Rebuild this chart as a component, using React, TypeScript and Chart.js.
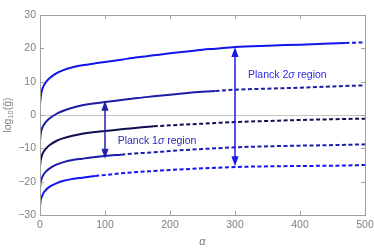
import React, { useEffect, useRef } from "react";
import { Chart, registerables } from "chart.js";

Chart.register(...registerables);

// ---- data ----
const alpha = [0, 1, 3, 6, 10, 15, 25, 35, 50, 65, 85, 100, 125, 150, 175, 200, 250, 270, 300, 350, 400, 470, 500];
const curve1 = [3, 5.3, 7.4, 8.9, 10.1, 11.1, 12.5, 13.4, 14.3, 14.9, 15.5, 15.9, 16.6, 17.3, 17.9, 18.5, 19.6, 19.9, 20.4, 20.8, 21.1, 21.6, 21.8];
const curve2 = [-7.8, -5.7, -4.1, -2.9, -1.9, -1.0, 0.3, 1.2, 2.2, 2.9, 3.55, 3.9, 4.5, 5.1, 5.6, 6.1, 7.0, 7.2, 7.6, 7.9, 8.2, 8.7, 8.9];
const curve3 = [-15.6, -13.6, -12.1, -10.9, -9.9, -9.0, -7.8, -7.0, -6.2, -5.6, -5.1, -4.8, -4.3, -3.8, -3.4, -3.1, -2.6, -2.4, -2.1, -1.8, -1.5, -1.2, -1.1];
const curve4 = [-22, -20.2, -18.9, -17.7, -16.8, -16.0, -14.9, -14.2, -13.5, -13.1, -12.6, -12.3, -11.9, -11.5, -11.2, -10.8, -10.2, -10.0, -9.7, -9.4, -9.2, -8.95, -8.8];
const curve5 = [-27.5, -25.6, -24.4, -23.2, -22.3, -21.5, -20.5, -19.8, -19.2, -18.8, -18.3, -18.0, -17.5, -17.1, -16.8, -16.5, -16.0, -15.85, -15.6, -15.4, -15.3, -15.15, -15.0];
const solidEnd = [470, 270, 175, 125, 85];

const xTicks = [0, 100, 200, 300, 400, 500];
const yTicks = [-30, -20, -10, 0, 10, 20, 30];

const arrowAlpha = [100, 300];
const arrowTop = [4.3, 20.4];
const arrowBottom = [-13.1, -15.4];

const regionLabels = ["1", "2"];
const labelAlpha = [119.5, 320];
const labelY = [-7.8, 12.1];

// ---- styles ----
const curveColors = ["#1414ec", "#1c1ca4", "#0e0e50", "#1c1cae", "#1414f0"];
const arrowColors = ["#2020a8", "#1a1ae8"];
const labelColors = ["#2a2ab4", "#2a2ae6"];
const FONT = 'Arial, "Liberation Sans", sans-serif';
const TICK_COLOR = "#808080";
const FRAME_COLOR = "#a0a0a0";

const curves = [curve1, curve2, curve3, curve4, curve5];

function buildDatasets() {
  const ds: any[] = [];
  curves.forEach((c, i) => {
    const pts = alpha.map((a, k) => ({ x: a, y: c[k] }));
    const solid = pts.filter((p) => p.x <= solidEnd[i]);
    const dashed = pts.filter((p) => p.x >= solidEnd[i]);
    ds.push({
      data: solid,
      borderColor: curveColors[i],
      borderWidth: 2,
      pointRadius: 0,
      cubicInterpolationMode: "monotone",
      fill: false,
    });
    ds.push({
      data: dashed,
      borderColor: curveColors[i],
      borderWidth: 2,
      borderDash: [4, 2.5],
      pointRadius: 0,
      cubicInterpolationMode: "monotone",
      fill: false,
    });
  });
  return ds;
}

const decorPlugin = {
  id: "decor",
  beforeDatasetsDraw(chart: any) {
    const { ctx, chartArea: a, scales } = chart;
    const y0 = scales.y.getPixelForValue(0);
    ctx.save();
    ctx.strokeStyle = "#c4c4c4";
    ctx.lineWidth = 1;
    ctx.beginPath();
    ctx.moveTo(a.left, Math.round(y0) + 0.5);
    ctx.lineTo(a.right, Math.round(y0) + 0.5);
    ctx.stroke();
    ctx.restore();
  },
  afterDatasetsDraw(chart: any) {
    const { ctx, chartArea: a, scales } = chart;
    const xs = scales.x;
    const ys = scales.y;
    ctx.save();
    // frame
    ctx.strokeStyle = FRAME_COLOR;
    ctx.lineWidth = 1;
    ctx.strokeRect(Math.round(a.left) + 0.5, Math.round(a.top) + 0.5, Math.round(a.right - a.left), Math.round(a.bottom - a.top));
    // inward ticks
    const tl = 4;
    ctx.beginPath();
    xTicks.forEach((v) => {
      const px = Math.round(xs.getPixelForValue(v)) + 0.5;
      ctx.moveTo(px, a.bottom);
      ctx.lineTo(px, a.bottom - tl);
      ctx.moveTo(px, a.top);
      ctx.lineTo(px, a.top + tl);
    });
    yTicks.forEach((v) => {
      const py = Math.round(ys.getPixelForValue(v)) + 0.5;
      ctx.moveTo(a.left, py);
      ctx.lineTo(a.left + tl, py);
      ctx.moveTo(a.right, py);
      ctx.lineTo(a.right - tl, py);
    });
    ctx.stroke();

    // arrows
    arrowAlpha.forEach((av, i) => {
      const px = xs.getPixelForValue(av);
      const pt = ys.getPixelForValue(arrowTop[i]);
      const pb = ys.getPixelForValue(arrowBottom[i]);
      const hl = 10;
      const hw = 3.6;
      ctx.strokeStyle = arrowColors[i];
      ctx.fillStyle = arrowColors[i];
      ctx.lineWidth = 1.5;
      ctx.beginPath();
      ctx.moveTo(px, pt + hl - 1);
      ctx.lineTo(px, pb - hl + 1);
      ctx.stroke();
      ctx.beginPath();
      ctx.moveTo(px, pt);
      ctx.lineTo(px - hw, pt + hl);
      ctx.lineTo(px + hw, pt + hl);
      ctx.closePath();
      ctx.fill();
      ctx.beginPath();
      ctx.moveTo(px, pb);
      ctx.lineTo(px - hw, pb - hl);
      ctx.lineTo(px + hw, pb - hl);
      ctx.closePath();
      ctx.fill();
    });

    // region labels
    regionLabels.forEach((n, i) => {
      let x = xs.getPixelForValue(labelAlpha[i]);
      const y = ys.getPixelForValue(labelY[i]);
      ctx.fillStyle = labelColors[i];
      ctx.textBaseline = "middle";
      ctx.textAlign = "left";
      const parts: [string, string][] = [
        ["Planck " + n, "10.5px " + FONT],
        ["\u03c3", "italic 10.5px " + FONT],
        [" region", "10.5px " + FONT],
      ];
      parts.forEach(([t, f]) => {
        ctx.font = f;
        ctx.fillText(t, x, y);
        x += ctx.measureText(t).width;
      });
    });

    // axis titles
    ctx.fillStyle = TICK_COLOR;
    ctx.textBaseline = "middle";
    ctx.textAlign = "center";
    ctx.font = "italic 11px " + FONT;
    ctx.fillText("\u03b1", (a.left + a.right) / 2, 242);

    ctx.save();
    ctx.translate(8, (a.top + a.bottom) / 2);
    ctx.rotate(-Math.PI / 2);
    const f1 = "10.5px " + FONT;
    const f2 = "7.5px " + FONT;
    ctx.font = f1;
    const w1 = ctx.measureText("log").width;
    const w3 = ctx.measureText("(\u011d)").width;
    ctx.font = f2;
    const w2 = ctx.measureText("10").width;
    let x = -(w1 + w2 + w3) / 2;
    ctx.textAlign = "left";
    ctx.textBaseline = "middle";
    ctx.font = f1;
    ctx.fillText("log", x, 0);
    x += w1;
    ctx.font = f2;
    ctx.fillText("10", x, 3);
    x += w2;
    ctx.font = f1;
    ctx.fillText("(\u011d)", x, 0);
    ctx.restore();

    ctx.restore();
  },
};

export default function App() {
  const ref = useRef<HTMLCanvasElement | null>(null);
  useEffect(() => {
    if (!ref.current) return;
    const tickFont = { family: FONT, size: 10.5 };
    const chart = new Chart(ref.current, {
      type: "line",
      data: { datasets: buildDatasets() },
      plugins: [decorPlugin],
      options: {
        animation: false,
        responsive: false,
        maintainAspectRatio: false,
        parsing: false as any,
        plugins: { legend: { display: false }, tooltip: { enabled: false } },
        layout: { padding: { top: 15, right: 9, left: 0, bottom: 0 } },
        scales: {
          x: {
            type: "linear",
            min: 0,
            max: 500,
            afterBuildTicks: (s: any) => {
              s.ticks = xTicks.map((v) => ({ value: v }));
            },
            afterFit: (s: any) => {
              s.height = 33;
              s.paddingRight = 0;
              s.paddingLeft = 0;
            },
            grid: { display: false, drawTicks: false },
            border: { display: false },
            ticks: {
              font: tickFont,
              color: TICK_COLOR,
              padding: 4,
              maxRotation: 0,
              autoSkip: false,
              callback: (v: any) => String(v).replace("-", "\u2212"),
            },
          },
          y: {
            type: "linear",
            min: -30,
            max: 30,
            afterBuildTicks: (s: any) => {
              s.ticks = yTicks.map((v) => ({ value: v }));
            },
            afterFit: (s: any) => {
              s.width = 40;
              s.paddingTop = 0;
              s.paddingBottom = 0;
            },
            grid: { display: false, drawTicks: false },
            border: { display: false },
            ticks: {
              font: tickFont,
              color: TICK_COLOR,
              padding: 4,
              autoSkip: false,
              callback: (v: any) => String(v).replace("-", "\u2212"),
            },
          },
        },
      } as any,
    });
    return () => chart.destroy();
  }, []);
  return (
    <div style={{ position: "absolute", left: 0, top: 0, width: 374, height: 248, background: "#fff" }}>
      <canvas ref={ref} width={374} height={248} style={{ display: "block" }} />
    </div>
  );
}
